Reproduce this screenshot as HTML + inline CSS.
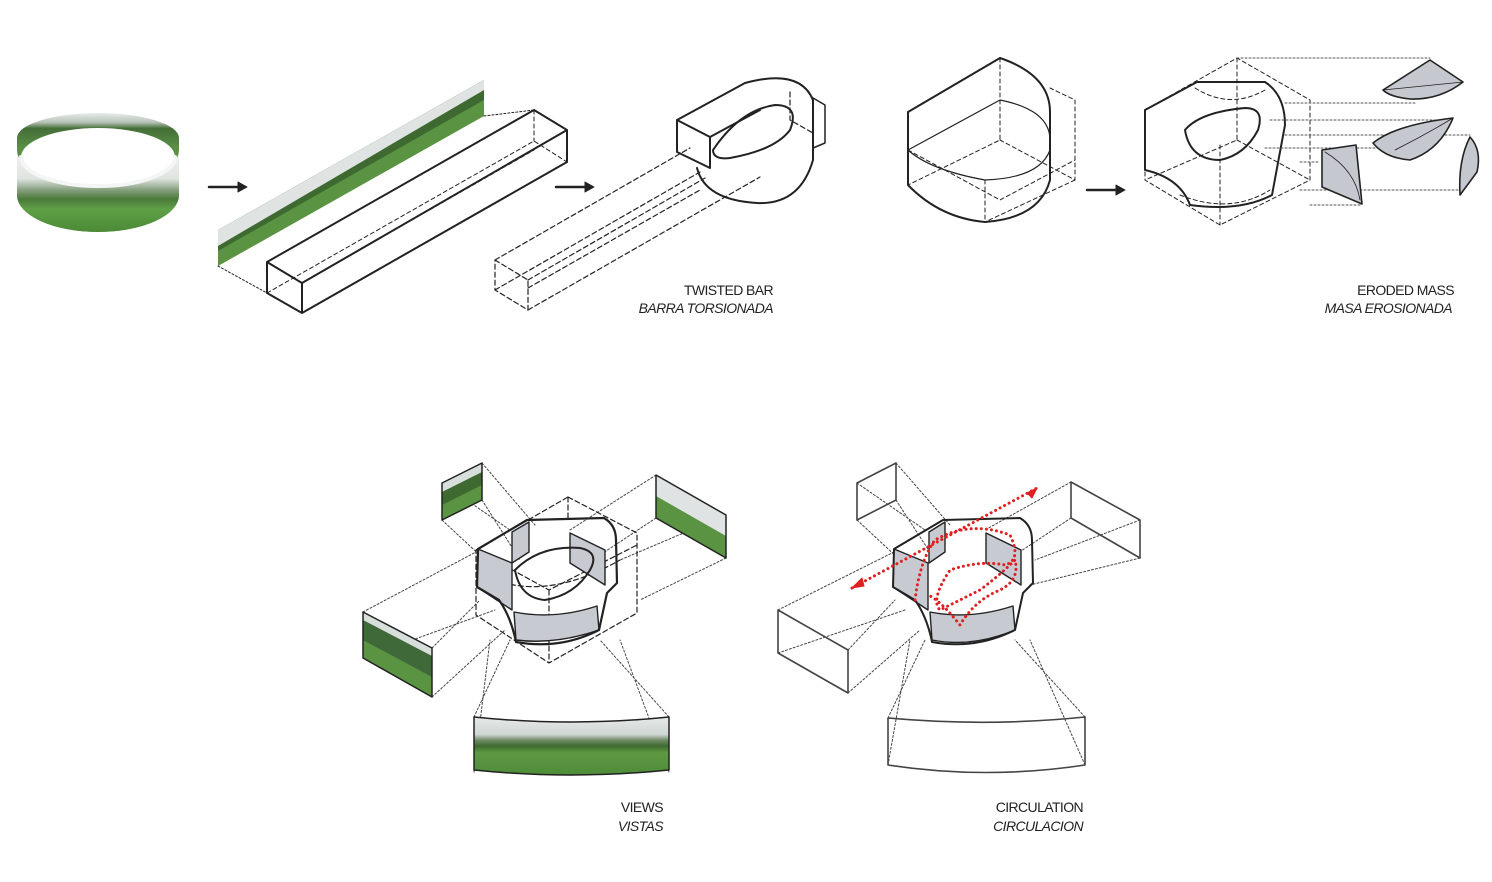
<!DOCTYPE html>
<html><head><meta charset="utf-8"><style>
html,body{margin:0;padding:0;background:#fff;}
svg{display:block;}
text{font-family:"Liberation Sans",sans-serif;font-size:14px;fill:#222;letter-spacing:-0.6px;}
</style></head><body>
<svg width="1492" height="882" viewBox="0 0 1492 882" xmlns="http://www.w3.org/2000/svg">
<defs>
<linearGradient id="ph" x1="0" y1="0" x2="0" y2="1">
<stop offset="0" stop-color="#e6eaea"/><stop offset="0.3" stop-color="#d0d6d4"/><stop offset="0.4" stop-color="#6f8c66"/><stop offset="0.5" stop-color="#3f6a30"/><stop offset="0.62" stop-color="#5e9a44"/><stop offset="1" stop-color="#4f8c38"/></linearGradient>
<linearGradient id="ringB" gradientUnits="userSpaceOnUse" x1="0" y1="113" x2="0" y2="190">
<stop offset="0" stop-color="#e8ecea"/><stop offset="0.12" stop-color="#b8c4b8"/><stop offset="0.2" stop-color="#446e38"/><stop offset="0.45" stop-color="#5a8f44"/><stop offset="1" stop-color="#5a8f44"/></linearGradient>
<linearGradient id="ringF" gradientUnits="userSpaceOnUse" x1="0" y1="150" x2="0" y2="232">
<stop offset="0" stop-color="#f2f4f3"/><stop offset="0.35" stop-color="#dfe4e0"/><stop offset="0.5" stop-color="#7d9a75"/><stop offset="0.6" stop-color="#4a7a3a"/><stop offset="0.72" stop-color="#5fa046"/><stop offset="1" stop-color="#4c8a36"/></linearGradient>
</defs>
<g fill="none" stroke="#222" stroke-linejoin="round" stroke-linecap="round">

<!-- RING -->
<path d="M17,138 A81,25 0 0 1 179,138 L179,195 A81,37 0 0 1 17,195 Z" fill="url(#ringB)" stroke="none"/>
<ellipse cx="98" cy="157" rx="77" ry="29" fill="#fff" stroke="none"/>
<path d="M17,150 A81,35 0 0 0 179,150 L179,195 A81,37 0 0 1 17,195 Z" fill="url(#ringF)" stroke="none"/>
<path d="M21,157 A77,29 0 0 0 175,157" stroke="#f4f6f5" stroke-width="4"/>

<!-- arrows -->
<g fill="#222" stroke="#222" stroke-width="2.5">
<line x1="209" y1="187" x2="240" y2="187"/><path d="M238,182 L247,187 L238,192Z" stroke-width="1"/>
<line x1="556" y1="187" x2="587" y2="187"/><path d="M585,182 L594,187 L585,192Z" stroke-width="1"/>
<line x1="1087" y1="190" x2="1118" y2="190"/><path d="M1116,185 L1125,190 L1116,195Z" stroke-width="1"/>
</g>

<!-- photo strip -->
<g stroke="none">
<path d="M218,230 L484,80 L484,116 L218,266Z" fill="#5a9442"/>
<path d="M218,230 L484,80 L484,100 L218,251Z" fill="#3e6a32"/>
<path d="M218,230 L484,80 L484,90 L218,246Z" fill="#dfe4e2"/>
</g>
<path d="M218,266 L267,293 M484,116 L534,110" stroke-dasharray="2,2" stroke-width="1"/>
<!-- bar -->
<path d="M267,262 L534,110 L567,130 L302,283 Z M302,283 L302,313 L567,162 L567,130 M267,262 L267,293 L302,313" stroke-width="2"/>
<path d="M267,293 L534,141 L567,162 M534,110 L534,141" stroke-dasharray="4,3" stroke-width="1"/>
<path d="M302,283 L534,150" stroke-dasharray="4,3" stroke-width="1"/>

<!-- twisted bar -->
<g stroke-dasharray="5,3" stroke-width="1.2">
<path d="M495,260 L528,280 L528,310 L495,290 Z"/>
<path d="M495,260 L690,148 M528,280 L705,178 M528,310 L760,177 M495,290 L700,172 M528,288 L700,190"/>
<path d="M790,92 L790,120 L813,133"/>
</g>
<path d="M677,120 L710,137 L710,168 L677,152 Z M677,120 L745,83 Q800,68 813,100 L813,160 Q800,205 757,203 Q705,200 697,168 M710,137 L760,110" stroke-width="2"/>
<path d="M713,150 Q740,110 775,105 Q800,105 790,130 Q775,150 730,158 Q713,160 713,150Z" stroke-width="2"/>
<path d="M813,98 L825,105 L825,143 L813,148" stroke-width="1.5"/>

<!-- cylinder block -->
<path d="M908,112 L1000,58 Q1050,75 1050,112 L1050,180 Q1040,218 985,222 Q940,218 908,185 Z" stroke-width="2"/>
<path d="M908,150 L1000,100 Q1050,110 1050,140 M908,150 Q930,170 985,180 Q1040,178 1050,150" stroke-width="1.2"/>
<g stroke-dasharray="4,3" stroke-width="1">
<path d="M1000,58 L1000,140 L908,185 M1000,140 L1075,180 L1075,100 L1050,88 M1075,180 L985,222 M985,180 L985,222 M908,150 L1000,200 L1075,160"/>
</g>

<!-- eroded mass -->
<g stroke-dasharray="4,3" stroke-width="1">
<path d="M1145,110 L1237,58 L1310,100 L1310,180 L1220,225 L1145,180 Z M1237,58 L1237,140 L1145,180 M1237,140 L1310,180 M1220,145 L1220,225"/>
<path d="M1195,88 Q1230,110 1265,90 M1180,195 Q1230,215 1270,190"/>
</g>
<path d="M1145,110 L1197,82 L1265,82 Q1285,95 1285,125 L1272,195 Q1240,212 1190,205 Q1180,178 1145,170 Z" stroke-width="2" fill="none"/>
<path d="M1185,130 Q1200,112 1245,108 Q1265,108 1258,130 Q1245,155 1220,160 Q1190,160 1185,130Z" stroke-width="2"/>
<g stroke-dasharray="2,2" stroke-width="1" stroke="#555">
<path d="M1237,58 L1430,58 M1285,103 L1415,103 M1270,120 L1440,120 M1285,135 L1470,135 M1265,148 L1380,148 M1300,162 L1320,162 M1300,190 L1460,190 M1310,205 L1360,205"/>
</g>
<g fill="#c6c8d0" stroke-width="1.6">
<path d="M1383,90 L1430,60 L1463,82 Q1440,100 1410,99 Q1390,97 1383,90Z"/>
<path d="M1373,143 Q1395,125 1453,118 Q1440,150 1410,160 Q1385,158 1373,143Z"/>
<path d="M1322,150 L1356,145 L1362,204 L1322,187 Z"/>
<path d="M1470,137 Q1482,150 1477,172 L1460,195 Q1458,160 1470,137Z"/>
</g>
<path d="M1383,90 L1463,82 M1395,150 Q1425,135 1453,118 M1325,152 Q1355,170 1360,200" stroke-width="0.8"/>

<!-- VIEWS -->
<g stroke-dasharray="2,2" stroke-width="1" stroke="#444">
<path d="M442,483 L510,530 M482,463 L535,525 M482,500 L520,560 M442,520 L485,560"/>
<path d="M656,475 L570,530 M656,518 L600,555 M726,515 L620,560 M726,558 L640,600"/>
<path d="M363,612 L476,552 M432,648 L480,600 M363,658 L495,610 M432,697 L505,630"/>
<path d="M474,717 L510,640 M669,717 L600,640 M474,772 L490,640 M669,772 L620,640"/>
</g>
<g stroke="none">
<path d="M442,483 L482,463 L482,500 L442,520Z" fill="#5a9442"/>
<path d="M442,483 L482,463 L482,485 L442,505Z" fill="#3e6a32"/>
<path d="M442,483 L482,463 L482,472 L442,492Z" fill="#d8dfdb"/>
<path d="M656,475 L726,515 L726,558 L656,518Z" fill="#5a9442"/>
<path d="M656,475 L726,515 L726,536 L656,496Z" fill="#dfe3e3"/>
<path d="M363,612 L432,648 L432,697 L363,658Z" fill="#5a9442"/>
<path d="M363,612 L432,648 L432,677 L363,640Z" fill="#40693a"/>
<path d="M363,612 L432,648 L432,656 L363,620Z" fill="#d8dfdb"/>
</g>
<path d="M442,483 L482,463 L482,500 L442,520Z M656,475 L726,515 L726,558 L656,518Z M363,612 L432,648 L432,697 L363,658Z" stroke-width="1.5"/>
<path d="M474,717 Q571,727 669,717 L669,770 Q571,780 474,770Z" fill="url(#ph)" stroke-width="1.5"/>
<g stroke-dasharray="5,3" stroke-width="1.2">
<path d="M568,497 L637,533 L637,613 L549,663 L476,615 L476,550 Z M568,497 L568,520 M476,550 L549,590 L637,545 M549,590 L549,663"/>
<path d="M495,580 Q550,600 620,560"/>
</g>
<g fill="#c8cad2" stroke-width="1.4">
<path d="M478,549 L512,563 L512,610 L477,587Z"/>
<path d="M514,612 Q555,620 597,606 L599,630 Q555,645 516,640Z"/>
<path d="M512,532 L529,522 L529,552 L512,563Z"/>
<path d="M570,533 L605,550 L605,585 L570,563Z"/>
</g>
<path d="M478,549 L527,520 L604,518 Q616,525 616,540 L617,583 L607,593 L599,630 Q560,650 516,642 Q511,617 499,600 L477,587 Z" stroke-width="2.2"/>
<path d="M515,570 Q540,545 580,548 Q600,552 590,570 Q575,595 545,600 Q520,598 515,570Z" stroke-width="2"/>

<!-- CIRCULATION -->
<g stroke-dasharray="2,2" stroke-width="1" stroke="#444">
<path d="M857,483 L925,530 M896,463 L950,525 M896,500 L935,560 M857,520 L900,560"/>
<path d="M1071,482 L985,530 M1071,518 L1015,555 M1140,520 L1035,560 M1140,558 L1030,585"/>
<path d="M778,610 L894,552 M848,650 L895,600 M778,653 L905,610 M848,693 L920,630"/>
<path d="M888,718 L925,640 M1085,717 L1015,640 M888,765 L910,640 M1085,765 L1030,640"/>
</g>
<g stroke="#444" stroke-width="1.6">
<path d="M857,483 L896,463 L896,500 L857,520Z"/>
<path d="M1071,482 L1140,520 L1140,558 M1071,482 L1071,518 L1140,558"/>
<path d="M778,610 L848,650 L848,693 L778,653Z"/>
<path d="M888,718 Q987,727 1085,717 L1085,765 Q987,780 888,765Z"/>
</g>
<g fill="#c8cad2" stroke-width="1.4">
<path d="M894,549 L928,563 L928,610 L893,587Z"/>
<path d="M930,612 Q970,620 1013,606 L1015,630 Q972,648 932,640Z"/>
<path d="M929,532 L945,522 L945,552 L929,563Z"/>
<path d="M986,533 L1021,550 L1021,585 L986,563Z"/>
</g>
<path d="M894,549 L943,520 L1020,518 Q1032,525 1032,540 L1033,583 L1023,593 L1015,630 Q975,650 932,642 Q927,617 915,600 L893,587 Z" stroke-width="2"/>
<g stroke="#e02020" stroke-width="3" stroke-dasharray="0.1,5" fill="none">
<path d="M852,588 L1037,488"/>
<path d="M915,600 Q920,560 935,540 Q970,520 1010,535 Q1022,560 1005,565 Q980,560 950,570 Q930,600 940,610 Q960,600 980,590 Q1000,575 1015,560 Q1020,580 1000,590 Q975,600 960,625 Q940,600 928,595"/>
</g>
<path d="M852,588 L862,578 L864,586Z M1037,488 L1027,493 L1032,498Z" fill="#e02020" stroke="#e02020" stroke-width="1"/>
</g>

<text x="773" y="295" text-anchor="end">TWISTED BAR</text>
<text x="773" y="313" text-anchor="end" font-style="italic">BARRA TORSIONADA</text>
<text x="1454" y="295" text-anchor="end">ERODED MASS</text>
<text x="1452" y="313" text-anchor="end" font-style="italic">MASA EROSIONADA</text>
<text x="663" y="812" text-anchor="end">VIEWS</text>
<text x="663" y="831" text-anchor="end" font-style="italic">VISTAS</text>
<text x="1083" y="812" text-anchor="end">CIRCULATION</text>
<text x="1083" y="831" text-anchor="end" font-style="italic">CIRCULACION</text>
</svg>
</body></html>
